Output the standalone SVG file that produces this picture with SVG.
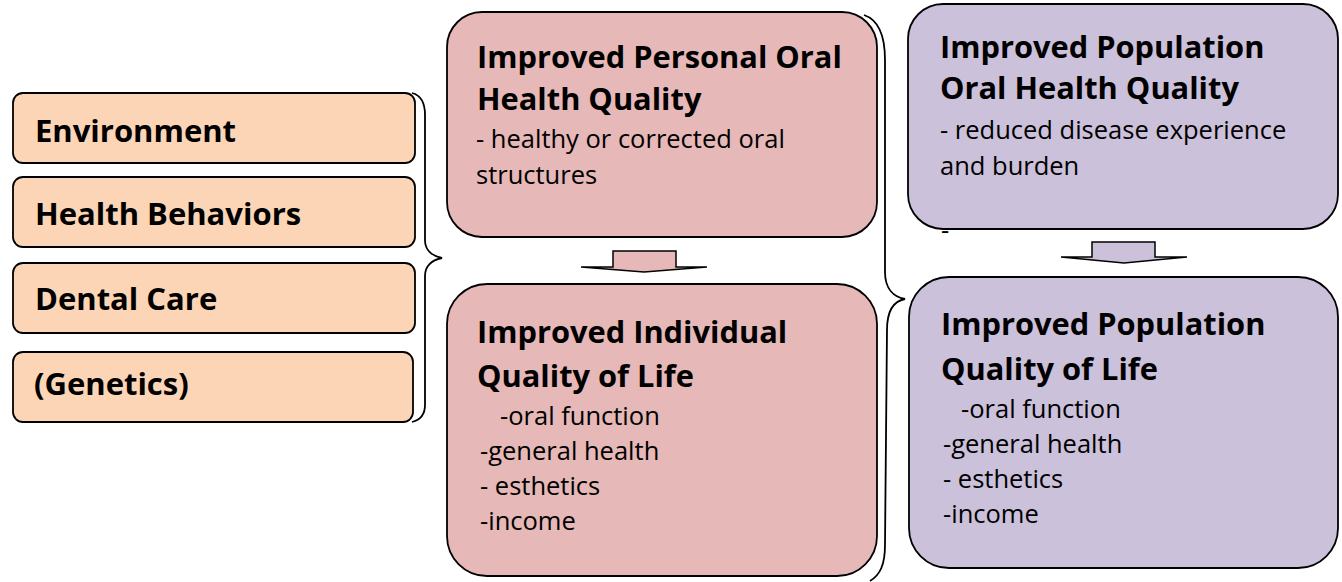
<svg xmlns="http://www.w3.org/2000/svg" width="1342" height="582" viewBox="0 0 1342 582">
<style>
.box{stroke:#000;stroke-width:1.8}
.orange{fill:#FBD5B5}
.pink{fill:#E6B8B7}
.purple{fill:#CCC1DA}
.lbl{font-family:"Open Sans","Liberation Sans",sans-serif;font-weight:bold;font-size:31px;fill:#000}
.ttl{font-family:"Open Sans","Liberation Sans",sans-serif;font-weight:bold;font-size:30.8px;fill:#000}
.body{font-family:"Open Sans","Liberation Sans",sans-serif;font-size:25.5px;fill:#000}
.brace{fill:none;stroke:#000;stroke-width:1.8}
.arrow{stroke:#000;stroke-width:1.5;stroke-linejoin:miter}
</style>
<rect width="1342" height="582" fill="#fff"/>
<g id="environment">
<rect class="box orange" x="13" y="93" width="402" height="70" rx="10"/>
<text class="lbl" x="35" y="142">Environment</text>
</g>
<g id="health-behaviors">
<rect class="box orange" x="13" y="177" width="402" height="70" rx="10"/>
<text class="lbl" x="35" y="225">Health Behaviors</text>
</g>
<g id="dental-care">
<rect class="box orange" x="13" y="263" width="402" height="70" rx="10"/>
<text class="lbl" x="35" y="310">Dental Care</text>
</g>
<g id="genetics">
<rect class="box orange" x="13" y="352" width="400" height="70" rx="10"/>
<text class="lbl" x="34" y="395">(Genetics)</text>
</g>
<g id="personal-oral-health">
<rect class="box pink" x="447" y="12" width="430" height="225" rx="35"/>
<text class="ttl" x="477" y="68">Improved Personal Oral</text>
<text class="ttl" x="477" y="110">Health Quality</text>
<text class="body" x="476" y="148">- healthy or corrected oral</text>
<text class="body" x="476" y="184">structures</text>
</g>
<g id="individual-qol">
<rect class="box pink" x="447" y="284" width="430" height="292" rx="40"/>
<text class="ttl" x="477" y="343">Improved Individual</text>
<text class="ttl" x="477" y="387">Quality of Life</text>
<text class="body" x="500" y="425">-oral function</text>
<text class="body" x="480" y="460">-general health</text>
<text class="body" x="480" y="495">- esthetics</text>
<text class="body" x="480" y="530">-income</text>
</g>
<g id="population-oral-health">
<text class="body" x="941" y="239">-</text>
<rect class="box purple" x="908" y="4" width="430" height="225" rx="35"/>
<text class="ttl" x="940" y="58">Improved Population</text>
<text class="ttl" x="940" y="99">Oral Health Quality</text>
<text class="body" x="940" y="139">- reduced disease experience</text>
<text class="body" x="940" y="175">and burden</text>
</g>
<g id="population-qol">
<rect class="box purple" x="909" y="277" width="429" height="291" rx="40"/>
<text class="ttl" x="941" y="335">Improved Population</text>
<text class="ttl" x="941" y="380">Quality of Life</text>
<text class="body" x="961" y="418">-oral function</text>
<text class="body" x="943" y="453">-general health</text>
<text class="body" x="943" y="488">- esthetics</text>
<text class="body" x="943" y="523">-income</text>
</g>
<g id="connectors">
<path class="brace" d="M412,93 C420,95 425,102 425,115 L425,240 C425,250 432,256 442,258 C432,260 425,266 425,276 L425,405 C425,415 420,420 412,422"/>
<path class="brace" d="M864,15 C879,20 885,35 885,60 L885,272 C885,289 894,297 905,299 C894,301 887,310 887,330 L885,545 C885,565 880,575 870,581"/>
<path class="arrow pink" d="M613,267 L613,251 L676,251 L676,267 L707,267 L644,272 L581,267 Z"/>
<path class="arrow purple" d="M1092,257 L1092,242 L1155,242 L1155,257 L1187,257 L1124,263 L1061,257 Z"/>
</g>
</svg>
